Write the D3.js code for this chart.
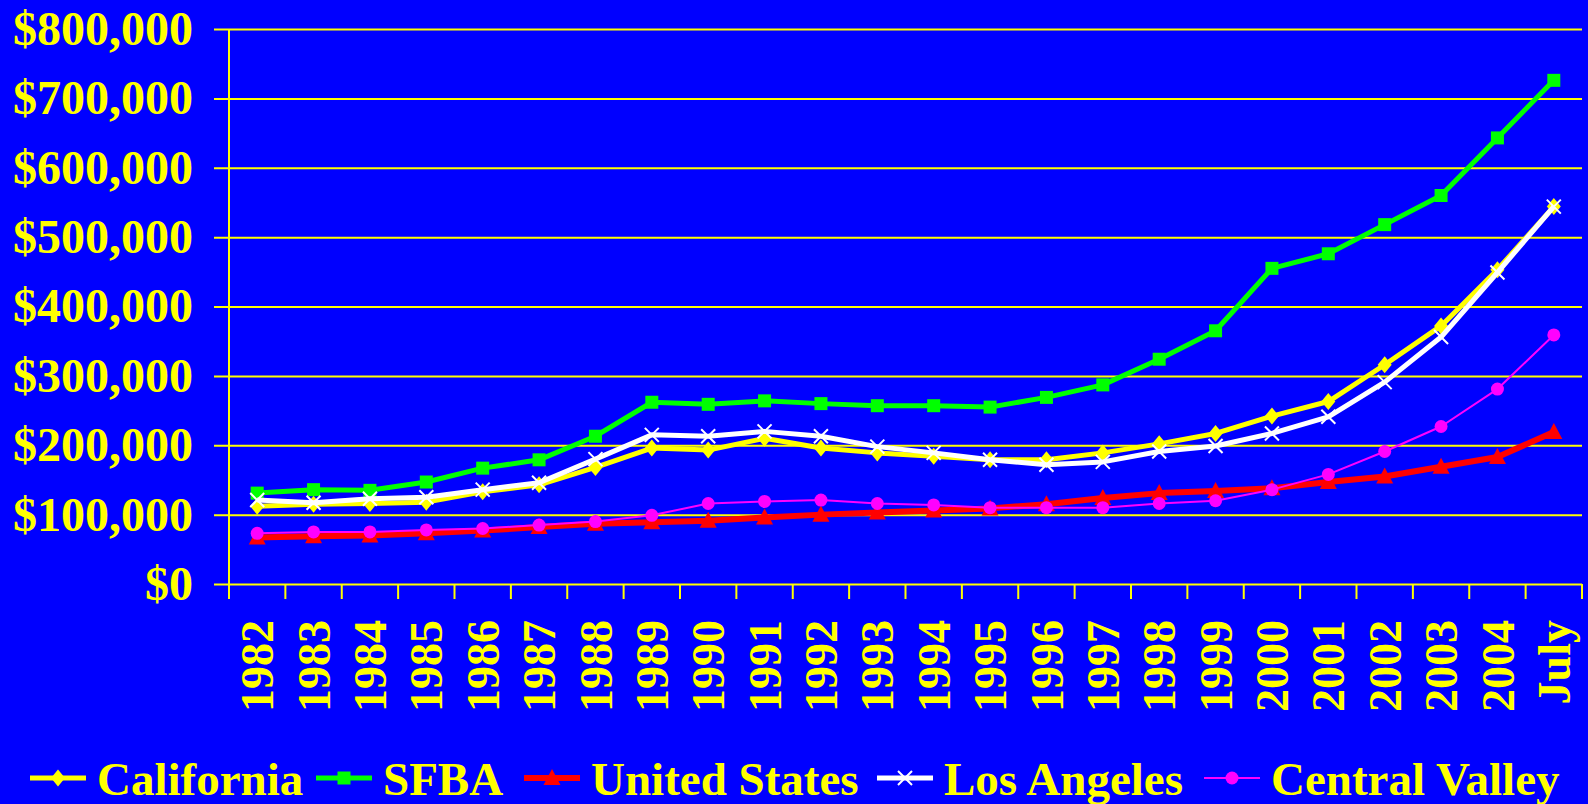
<!DOCTYPE html>
<html>
<head>
<meta charset="utf-8">
<script src="https://cdn.jsdelivr.net/npm/d3@7"></script>
<style>
  html, body { margin: 0; padding: 0; background: #0000ff; overflow: hidden; }
  svg text { font-family: "Liberation Serif", "Times New Roman", serif; font-weight: bold; fill: #ffff00; }
</style>
</head>
<body>
<svg id="chart" width="1588" height="804"></svg>
<script>
var years = ['1982', '1983', '1984', '1985', '1986', '1987', '1988', '1989', '1990', '1991', '1992',
             '1993', '1994', '1995', '1996', '1997', '1998', '1999', '2000', '2001', '2002', '2003', '2004', 'July'];

// median prices, thousands of dollars
var california    = [112, 115, 116, 118, 133, 143, 168, 196, 193, 210, 196, 189, 184, 179, 179, 189, 202, 217, 242, 263, 316, 372, 453, 544];
var sfba          = [131, 136, 135, 147, 167, 179, 213, 262, 259, 264, 260, 257, 257, 255, 269, 287, 324, 365, 455, 476, 518, 560, 643, 726];
var unitedStates  = [67, 69, 70, 73, 77, 82, 87, 89, 91, 96, 100, 103, 106, 109, 115, 124, 131, 134, 138, 147, 155, 169, 183, 219];
var losAngeles    = [121, 117, 123, 125, 136, 146, 180, 215, 213, 220, 213, 198, 189, 179, 172, 176, 191, 199, 217, 241, 291, 356, 449, 544];
var centralValley = [73, 75, 75, 78, 80, 85, 90, 99, 116, 119, 121, 116, 114, 110, 110, 110, 116, 120, 136, 158, 191, 227, 281, 359];

var yTicks = [0, 100000, 200000, 300000, 400000, 500000, 600000, 700000, 800000];

var chartSVG = d3.select('#chart');
var plotLeft = 229, plotRight = 1582, plotTop = 29, plotBottom = 584;
var legendX = [30, 316, 524, 877, 1204];

// custom marker shapes
var diamond = { draw: function(c) { c.moveTo(0, -8.5); c.lineTo(7, 0); c.lineTo(0, 8.5); c.lineTo(-7, 0); c.closePath(); } };
var square = { draw: function(c) { c.rect(-6.5, -6.5, 13, 13); } };
var triangle = { draw: function(c) { c.moveTo(0, -9); c.lineTo(8.5, 7); c.lineTo(-8.5, 7); c.closePath(); } };
var cross = { draw: function(c) { c.moveTo(-7, -7); c.lineTo(7, 7); c.moveTo(7, -7); c.lineTo(-7, 7); } };
var circle = { draw: function(c) { c.moveTo(6.5, 0); c.arc(0, 0, 6.5, 0, 2 * Math.PI); } };

var series = [
  { name: 'California', values: california, color: '#ffff00', width: 5, shape: diamond, filled: true },
  { name: 'SFBA', values: sfba, color: '#00ff00', width: 5, shape: square, filled: true },
  { name: 'United States', values: unitedStates, color: '#ff0000', width: 6, shape: triangle, filled: true },
  { name: 'Los Angeles', values: losAngeles, color: '#ffffff', width: 5, shape: cross, filled: false },
  { name: 'Central Valley', values: centralValley, color: '#ff00ff', width: 2, shape: circle, filled: true }
];

var xScale = d3.scaleBand()
               .domain(years)
               .range([plotLeft, plotRight]);
var yScale = d3.scaleLinear()
               .domain([0, 800000])
               .range([plotBottom, plotTop]);

// horizontal gridlines + dollar labels
var yAxis = d3.axisLeft(yScale)
              .tickValues(yTicks)
              .tickSize(plotRight - 214)
              .tickPadding(21)
              .tickFormat(d => '$' + d3.format(',')(d));

chartSVG
  .append('g')
    .classed('y-axis axis', true)
    .attr('transform', `translate(${plotRight}, 0)`)
    .call(yAxis)
    .call(g => g.select('.domain').remove())
    .call(g => g.selectAll('line').attr('stroke', '#ffff00').attr('stroke-width', 2))
    .call(g => g.selectAll('text').attr('font-size', 48).attr('fill', '#ffff00')
                 .attr('font-family', '"Liberation Serif", serif').attr('font-weight', 'bold'));

// vertical axis line
chartSVG
  .append('line')
    .attr('x1', plotLeft).attr('x2', plotLeft)
    .attr('y1', plotTop).attr('y2', plotBottom)
    .attr('stroke', '#ffff00')
    .attr('stroke-width', 2);

// x ticks at the band edges
var edges = years.map(d => xScale(d)).concat([plotRight]);
chartSVG
  .append('g')
    .selectAll('line')
    .data(edges)
    .enter()
    .append('line')
      .attr('x1', d => d).attr('x2', d => d)
      .attr('y1', plotBottom).attr('y2', plotBottom + 15)
      .attr('stroke', '#ffff00')
      .attr('stroke-width', 2);

// rotated year labels
chartSVG
  .append('g')
    .selectAll('text')
    .data(years)
    .enter()
    .append('text')
      .attr('transform', d => `translate(${xScale(d) + xScale.bandwidth() / 2}, 620) rotate(-90)`)
      .attr('text-anchor', 'end')
      .attr('dy', '0.35em')
      .attr('font-size', 46)
      .text(d => d);

var line = d3.line()
             .x((d, i) => xScale(years[i]) + xScale.bandwidth() / 2)
             .y(d => yScale(d * 1000));

var symbol = d3.symbol();

series.forEach(function(s) {
  var g = chartSVG.append('g').classed('series', true);
  g.append('path')
    .datum(s.values)
    .attr('d', line)
    .attr('fill', 'none')
    .attr('stroke', s.color)
    .attr('stroke-width', s.width)
    .attr('stroke-linejoin', 'round');

  g.selectAll('.marker')
    .data(s.values)
    .enter()
    .append('path')
      .classed('marker', true)
      .attr('transform', (d, i) => `translate(${xScale(years[i]) + xScale.bandwidth() / 2}, ${yScale(d * 1000)})`)
      .attr('d', symbol.type(s.shape)())
      .attr('fill', s.filled ? s.color : 'none')
      .attr('stroke', s.filled ? 'none' : s.color)
      .attr('stroke-width', 2);
});

// legend
var legend = chartSVG.append('g').classed('legend', true);
series.forEach(function(s, i) {
  var item = legend.append('g').attr('transform', `translate(${legendX[i]}, 778)`);
  item.append('line')
    .attr('x1', 0).attr('x2', 56)
    .attr('stroke', s.color)
    .attr('stroke-width', s.width);
  item.append('path')
    .attr('transform', 'translate(28, 0)')
    .attr('d', symbol.type(s.shape)())
    .attr('fill', s.filled ? s.color : 'none')
    .attr('stroke', s.filled ? 'none' : s.color)
    .attr('stroke-width', 2);
  item.append('text')
    .attr('x', 67)
    .attr('y', 17)
    .attr('font-size', 47)
    .text(s.name);
});
</script>
</body>
</html>
